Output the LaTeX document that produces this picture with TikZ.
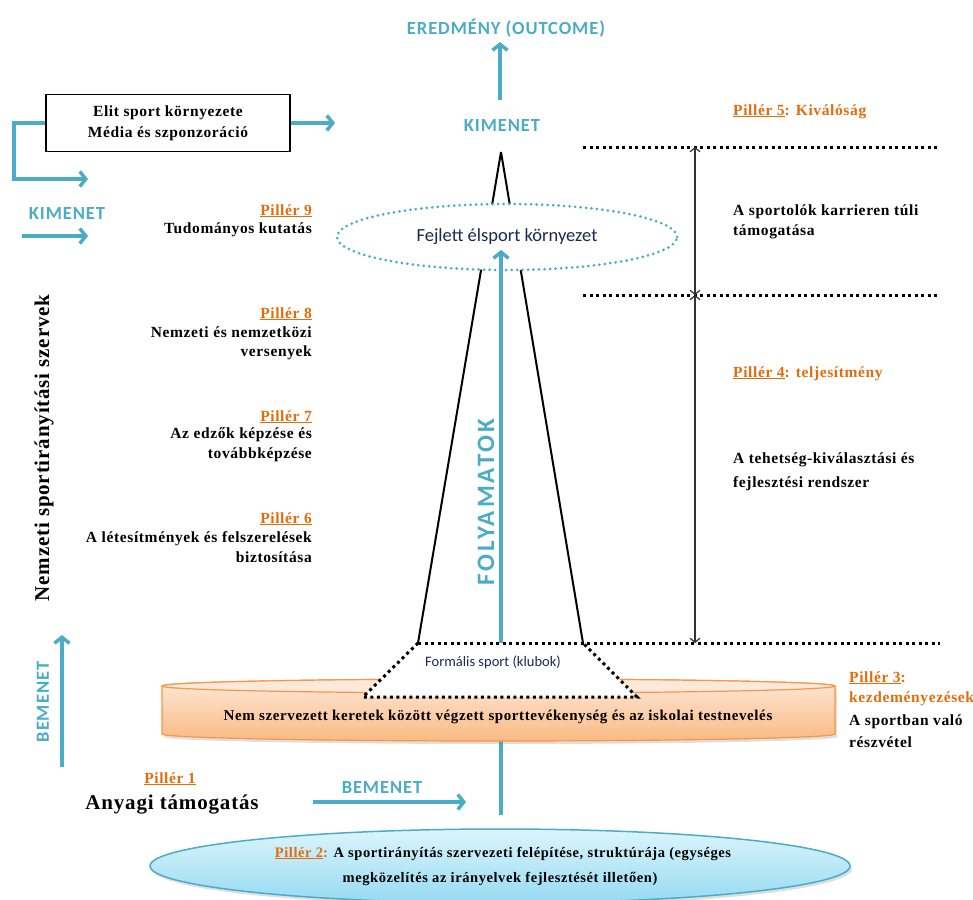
\documentclass[tikz,border=0pt]{standalone}
\usepackage{fontspec}
\setmainfont{Liberation Serif}
\newfontfamily\sbf{Liberation Serif}[LetterSpace=4]
\newfontfamily\csb{Carlito}[LetterSpace=5]
\newfontfamily\csr{Carlito}
\usetikzlibrary{arrows.meta,shadows,shapes.geometric}
\definecolor{cblue}{RGB}{75,172,198}
\definecolor{corange}{RGB}{228,108,10}
\definecolor{cylborder}{RGB}{247,150,70}
\definecolor{cyltop}{RGB}{253,233,217}
\definecolor{cylbot}{RGB}{250,185,130}
\definecolor{elltop}{RGB}{220,245,252}
\definecolor{ellbot}{RGB}{150,218,242}
\definecolor{cnavy}{RGB}{30,40,80}
\tikzset{
  ser/.style={font=\sbf\bfseries\fontsize{15.5}{18}\selectfont, inner sep=0pt},
  pil/.style={ser, text=corange},
  blab/.style={font=\csb\bfseries\fontsize{18.5}{20}\selectfont, text=cblue, inner sep=0pt},
  barrow/.style={draw=cblue, line width=3.5pt, -{Straight Barb[length=6pt,width=15pt]}},
  darrow/.style={draw=black!80, line width=1.2pt, {Straight Barb[length=4pt,width=10pt]}-{Straight Barb[length=4pt,width=10pt]}},
  dline/.style={draw=black, line width=3pt, dash pattern=on 3pt off 3.5pt},
  tower/.style={draw=black, line width=2pt},
}
\begin{document}
\begin{tikzpicture}[x=1pt,y=-1pt]
\useasboundingbox (0,0) rectangle (973,899);
\clip (0,0) rectangle (973,899);

% top outcome
\node[blab] (outcome) at (506,28) {EREDMÉNY (OUTCOME)};
\node[blab] (kimtop) at (502,126) {KIMENET};
\coordinate (outbot) at (500,100);
\coordinate (outtip) at (500,42);
\draw[barrow] (outbot) -- (outtip);

% elite box
\node[draw=black, line width=1.3pt, minimum width=244, minimum height=57, align=center,
      font=\sbf\bfseries\fontsize{15.5}{21}\selectfont, inner sep=0pt] (elit) at (168,123)
  {Elit sport környezete\\Média és szponzoráció};
\coordinate (elitR) at (335,123);
\draw[barrow] (elit.east) -- (elitR);
\coordinate (elitL) at (14,123);
\coordinate (elitD) at (14,179);
\coordinate (elitE) at (88,179);
\draw[barrow] (elit.west) -- (elitL) -- (elitD) -- (elitE);

% left KIMENET
\node[blab] (kimleft) at (67,213) {KIMENET};
\coordinate (kla) at (22,236);
\coordinate (klb) at (88,236);
\draw[barrow] (kla) -- (klb);

% tower
\coordinate (apex) at (501,152);
\coordinate (tl) at (418,643);
\coordinate (tr) at (583,643);
\draw[tower] (apex) -- (tl);
\draw[tower] (apex) -- (tr);

% Fejlett ellipse
\node[ellipse, draw=cblue, fill=white, line width=3pt, dash pattern=on 0pt off 5.5pt, line cap=round,
      minimum width=340, minimum height=66, inner sep=0pt,
      font=\csr\fontsize{18.5}{20}\selectfont, text=cnavy] (fej) at (507,237) {Fejlett élsport környezet};

% main blue arrow
\coordinate (mainbot) at (501,815);
\coordinate (maintip) at (501,250);
\draw[barrow] (mainbot) -- (maintip);

% dotted horizontal lines
\coordinate (d1a) at (583,147); \coordinate (d1b) at (940,147);
\coordinate (d2a) at (583,295); \coordinate (d2b) at (940,295);
\coordinate (d3b) at (940,643);
\draw[dline] (d1a) -- (d1b);
\draw[dline] (d2a) -- (d2b);

% double arrows
\coordinate (a1) at (695,147);
\coordinate (a2) at (695,295);
\coordinate (a3) at (695,643);
\draw[darrow] (a1) -- (a2);
\draw[darrow] (a2) -- (a3);

% cylinder
\path[draw=cylborder, line width=1.2pt, top color=cyltop, bottom color=cylbot, drop shadow={opacity=0.25,shadow xshift=2pt,shadow yshift=-3pt}]
  (162,686) -- (162,734) arc[start angle=180,end angle=360,x radius=336.5pt,y radius=7pt]
  -- (835,686) arc[start angle=0,end angle=180,x radius=336.5pt,y radius=7pt] -- cycle;
\path[draw=cylborder, line width=1.2pt, fill=cyltop] (498.5,686) ellipse [x radius=336.5pt, y radius=7pt];

% trapezoid (formal sport)
\coordinate (bl) at (363,697);
\coordinate (br) at (637,697);
\fill[white] (tl) -- (tr) -- (br) -- (bl) -- cycle;
\draw[dline] (tl) -- (d3b);
\draw[dline] (tl) -- (bl) -- (br) -- (tr);
\node[font=\csr\fontsize{14.5}{16}\selectfont, text=cnavy, inner sep=0pt] (formal) at (493,662) {Formális sport (klubok)};

\node[ser, font=\sbf\bfseries\fontsize{15}{16}\selectfont, anchor=base] (cyltext) at (498,720)
  {Nem szervezett keretek között végzett sporttevékenység és az iskolai testnevelés};

% FOLYAMATOK
\node[blab, font=\csb\bfseries\fontsize{25}{27}\selectfont\addfontfeatures{LetterSpace=12}, rotate=90] (foly) at (486,502) {FOLYAMATOK};

% left pillars
\node[pil, anchor=base east] (p9a) at (312,215) {\underline{Pillér 9}};
\node[ser, anchor=base east] (p9b) at (312,233) {Tudományos kutatás};
\node[pil, anchor=base east] (p8a) at (312,318) {\underline{Pillér 8}};
\node[ser, anchor=base east] (p8b) at (312,337) {Nemzeti és nemzetközi};
\node[ser, anchor=base east] (p8c) at (312,356) {versenyek};
\node[pil, anchor=base east] (p7a) at (312,421) {\underline{Pillér 7}};
\node[ser, anchor=base east] (p7b) at (312,438) {Az edzők képzése és};
\node[ser, anchor=base east] (p7c) at (312,458) {továbbképzése};
\node[pil, anchor=base east] (p6a) at (312,523) {\underline{Pillér 6}};
\node[ser, anchor=base east] (p6b) at (312,542) {A létesítmények és felszerelések};
\node[ser, anchor=base east] (p6c) at (312,562) {biztosítása};

% vertical title
\node[ser, font=\sbf\bfseries\fontsize{21}{24}\selectfont, rotate=90] (nemz) at (44,448) {Nemzeti sportirányítási szervek};

% right pillars
\node[pil, anchor=base west] (p5) at (733,115) {\underline{Pillér 5}: Kiválóság};
\node[ser, anchor=base west] (p5b) at (733,215) {A sportolók karrieren túli};
\node[ser, anchor=base west] (p5c) at (733,235) {támogatása};
\node[pil, anchor=base west] (p4) at (733,377) {\underline{Pillér 4}: teljesítmény};
\node[ser, anchor=base west] (p4b) at (733,463) {A tehetség-kiválasztási és};
\node[ser, anchor=base west] (p4c) at (733,487) {fejlesztési rendszer};
\node[pil, anchor=base west] (p3a) at (849,682) {\underline{Pillér 3}:};
\node[pil, anchor=base west] (p3b) at (849,702) {kezdeményezések};
\node[ser, anchor=base west] (p3c) at (849,725) {A sportban való};
\node[ser, anchor=base west] (p3d) at (849,747) {részvétel};

% BEMENET
\node[blab, rotate=90] (bemv) at (43,702) {BEMENET};
\coordinate (bva) at (62,767);
\coordinate (bvb) at (62,635);
\draw[barrow] (bva) -- (bvb);
\node[blab] (bemh) at (382,787) {BEMENET};
\coordinate (bha) at (313,802);
\coordinate (bhb) at (466,802);
\draw[barrow] (bha) -- (bhb);

% Pillar 1
\node[pil, anchor=base] (p1a) at (170,783) {\underline{Pillér 1}};
\node[ser, font=\sbf\bfseries\fontsize{21}{24}\selectfont, anchor=base] (p1b) at (172,809) {Anyagi támogatás};

% bottom ellipse (Pillar 2)
\path[draw=cblue, line width=1.5pt, top color=elltop, bottom color=ellbot, drop shadow={opacity=0.25,shadow xshift=2pt,shadow yshift=-3pt}]
  (500,866) ellipse [x radius=350pt, y radius=37pt];
\node[ser, font=\sbf\bfseries\fontsize{14.5}{16}\selectfont, anchor=base] (p2a) at (503,857)
  {\textcolor{corange}{\underline{Pillér 2}:} A sportirányítás szervezeti felépítése, struktúrája (egységes};
\node[ser, font=\sbf\bfseries\fontsize{14.5}{16}\selectfont, anchor=base] (p2b) at (500,882)
  {megközelítés az irányelvek fejlesztését illetően)};
\end{tikzpicture}
\end{document}
